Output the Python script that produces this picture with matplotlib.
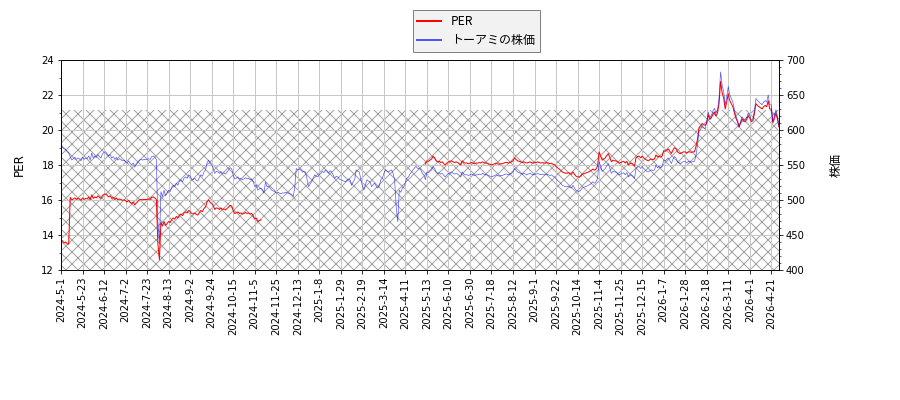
import numpy as np
import matplotlib.pyplot as plt
from matplotlib.ticker import AutoMinorLocator

plt.rcParams['font.family'] = ['DejaVu Sans', 'Noto Sans CJK JP']

# tick labels, one every 14 trading days
tick_labels = [
    '2024-5-1', '2024-5-23', '2024-6-12', '2024-7-2', '2024-7-23', '2024-8-13',
    '2024-9-2', '2024-9-24', '2024-10-15', '2024-11-5', '2024-11-25', '2024-12-13',
    '2025-1-8', '2025-1-29', '2025-2-19', '2025-3-14', '2025-4-11', '2025-5-13',
    '2025-6-10', '2025-6-30', '2025-7-18', '2025-8-12', '2025-9-1', '2025-9-22',
    '2025-10-14', '2025-11-4', '2025-11-25', '2025-12-15', '2026-1-7', '2026-1-28',
    '2026-2-18', '2026-3-11', '2026-4-1', '2026-4-21',
]

# daily close (yen)
price = [
    577, 575, 573, 572, 569, 567, 562, 557, 559, 561, 558, 560, 559, 556,
    561, 558, 560, 559, 563, 557, 567, 560, 563, 561, 565, 562, 560, 566,
    568, 569, 566, 563, 565, 560, 562, 558, 561, 557, 559, 558, 556, 557,
    555, 553, 556, 552, 550, 553, 547, 551, 554, 557, 558, 557, 558, 558,
    558, 559, 558, 562, 563, 561, 558, 470, 438, 512, 505, 514, 506, 510,
    514, 512, 518, 521, 519, 524, 521, 527, 529, 526, 531, 533, 531, 536,
    534, 530, 529, 531, 528, 527, 532, 536, 534, 540, 543, 553, 557, 552,
    550, 546, 538, 541, 540, 538, 541, 538, 539, 537, 540, 543, 546, 545,
    536, 530, 531, 533, 530, 531, 529, 530, 532, 530, 531, 529, 530, 526,
    519, 521, 514, 516, 517, 515, 510, 526, 519, 520, 517, 514, 513, 512,
    510, 511, 510, 509, 510, 510, 511, 510, 510, 509, 508, 505, 517, 545,
    543, 544, 543, 540, 541, 540, 530, 519, 523, 526, 531, 536, 534, 533,
    536, 538, 541, 539, 543, 541, 538, 542, 540, 536, 531, 534, 533, 530,
    529, 528, 527, 526, 528, 530, 529, 521, 526, 529, 543, 541, 540, 530,
    520, 514, 522, 529, 527, 526, 519, 522, 524, 520, 517, 520, 529, 531,
    538, 543, 541, 540, 542, 543, 538, 529, 490, 469, 514, 511, 517, 519,
    525, 531, 533, 537, 540, 543, 546, 548, 545, 545, 543, 538, 536, 529,
    540, 539, 541, 543, 548, 545, 540, 538, 539, 537, 538, 535, 533, 536,
    538, 539, 540, 538, 537, 538, 537, 535, 533, 540, 537, 536, 536, 535,
    536, 537, 536, 535, 536, 536, 537, 536, 538, 537, 536, 536, 535, 534,
    533, 534, 535, 536, 535, 534, 535, 535, 536, 537, 537, 536, 537, 538,
    540, 545, 542, 540, 539, 538, 537, 538, 537, 536, 537, 538, 537, 536,
    537, 537, 538, 537, 536, 537, 536, 536, 537, 536, 535, 536, 534, 533,
    530, 528, 526, 524, 521, 520, 519, 519, 520, 518, 517, 521, 517, 514,
    513, 512, 514, 517, 518, 519, 520, 521, 522, 524, 526, 524, 526, 531,
    555, 548, 541, 543, 545, 549, 552, 545, 538, 541, 540, 540, 538, 536,
    537, 538, 539, 536, 539, 533, 535, 536, 534, 531, 545, 547, 548, 545,
    548, 545, 543, 541, 540, 542, 543, 542, 543, 550, 546, 548, 546, 548,
    557, 556, 558, 560, 556, 552, 558, 562, 560, 555, 553, 552, 554, 555,
    555, 553, 555, 555, 554, 555, 555, 564, 579, 598, 601, 605, 603, 602,
    612, 626, 618, 621, 627, 631, 624, 629, 645, 683, 664, 655, 636, 648,
    662, 650, 645, 640, 629, 620, 614, 605, 612, 619, 615, 614, 618, 624,
    620, 614, 616, 628, 645, 642, 640, 638, 636, 640, 642, 640, 650, 636,
    636, 612, 620, 629, 619, 605,
]

# PER from the start of the series (2024-5-1 .. 2024-11-11)
per_2024 = [
    13.72, 13.66, 13.55, 13.60, 13.50, 13.48, 16.15, 16.01, 16.06, 16.12, 16.03, 16.09, 16.06, 15.98,
    16.12, 16.03, 16.09, 16.06, 16.18, 16.01, 16.29, 16.09, 16.18, 16.12, 16.24, 16.15, 16.09, 16.26,
    16.32, 16.35, 16.26, 16.18, 16.24, 16.09, 16.15, 16.03, 16.12, 16.01, 16.06, 16.03, 15.98, 16.01,
    15.95, 15.89, 15.98, 15.86, 15.80, 15.89, 15.72, 15.83, 15.92, 16.01, 16.03, 16.01, 16.03, 16.03,
    16.03, 16.06, 16.03, 16.15, 16.18, 16.12, 16.03, 13.51, 12.59, 14.71, 14.51, 14.77, 14.54, 14.66,
    14.77, 14.71, 14.89, 14.97, 14.91, 15.06, 14.97, 15.14, 15.20, 15.11, 15.26, 15.32, 15.26, 15.40,
    15.34, 15.23, 15.20, 15.26, 15.17, 15.14, 15.29, 15.40, 15.34, 15.52, 15.60, 15.89, 16.01, 15.86,
    15.80, 15.69, 15.46, 15.55, 15.52, 15.46, 15.55, 15.46, 15.49, 15.43, 15.52, 15.60, 15.69, 15.66,
    15.40, 15.23, 15.26, 15.32, 15.23, 15.26, 15.20, 15.23, 15.29, 15.23, 15.26, 15.20, 15.23, 15.11,
    14.91, 14.97, 14.77, 14.83, 14.86,
]

# PER up to the end of the series (from 2025-5-13)
per_2025 = [
    18.05,
    18.24, 18.21, 18.28, 18.34, 18.51, 18.41, 18.24, 18.18, 18.21, 18.14, 18.18, 18.07, 18.01, 18.11,
    18.18, 18.21, 18.24, 18.18, 18.14, 18.18, 18.14, 18.07, 18.01, 18.24, 18.14, 18.11, 18.11, 18.07,
    18.11, 18.14, 18.11, 18.07, 18.11, 18.11, 18.14, 18.11, 18.18, 18.14, 18.11, 18.11, 18.07, 18.04,
    18.01, 18.04, 18.07, 18.11, 18.07, 18.04, 18.07, 18.07, 18.11, 18.14, 18.14, 18.11, 18.14, 18.18,
    18.24, 18.41, 18.31, 18.24, 18.21, 18.18, 18.14, 18.18, 18.14, 18.11, 18.14, 18.18, 18.14, 18.11,
    18.14, 18.14, 18.18, 18.14, 18.11, 18.14, 18.11, 18.11, 18.14, 18.11, 18.07, 18.11, 18.04, 18.01,
    17.91, 17.84, 17.77, 17.70, 17.60, 17.57, 17.53, 17.53, 17.57, 17.50, 17.47, 17.60, 17.47, 17.36,
    17.33, 17.30, 17.36, 17.47, 17.50, 17.53, 17.57, 17.60, 17.64, 17.70, 17.77, 17.70, 17.77, 17.94,
    18.75, 18.51, 18.28, 18.34, 18.41, 18.55, 18.65, 18.41, 18.18, 18.28, 18.24, 18.24, 18.18, 18.11,
    18.14, 18.18, 18.21, 18.11, 18.21, 18.01, 18.07, 18.11, 18.04, 17.94, 18.41, 18.48, 18.51, 18.41,
    18.51, 18.41, 18.34, 18.28, 18.24, 18.31, 18.34, 18.31, 18.34, 18.58, 18.45, 18.51, 18.45, 18.51,
    18.82, 18.78, 18.85, 18.92, 18.78, 18.65, 18.85, 18.99, 18.92, 18.75, 18.68, 18.65, 18.72, 18.75,
    18.75, 18.68, 18.75, 18.75, 18.72, 18.75, 18.75, 19.05, 19.49, 20.15, 20.24, 20.37, 20.30, 20.27,
    20.40, 20.87, 20.60, 20.70, 20.90, 21.03, 20.80, 20.97, 21.50, 22.77, 22.13, 21.83, 21.20, 21.60,
    22.07, 21.67, 21.50, 21.33, 20.97, 20.67, 20.47, 20.17, 20.40, 20.63, 20.50, 20.47, 20.60, 20.80,
    20.67, 20.47, 20.53, 20.93, 21.50, 21.40, 21.33, 21.27, 21.20, 21.33, 21.40, 21.33, 21.67, 21.20,
    21.20, 20.40, 20.67, 20.97, 20.63, 20.17,
]

band_top = 21.15  # upper edge of the hatched band, PER scale

n = len(price)
x = np.arange(n)
per = np.full(n, np.nan)
per[:len(per_2024)] = per_2024
per[n - len(per_2025):] = per_2025

fig = plt.figure(figsize=(12.5, 400 / 72), dpi=72)
ax1 = fig.add_axes([61 / 900, 130 / 400, 718 / 900, 210 / 400])
ax2 = ax1.twinx()

ax1.axhspan(12, band_top, facecolor='none', edgecolor='#a0a0a0', hatch='xx', linewidth=0, zorder=0)
l1, = ax1.plot(x, per, color='red', linewidth=1.0, label='PER')
l2, = ax2.plot(x, price, color='blue', linewidth=0.7, alpha=0.65, label='トーアミの株価')

ax1.set_xlim(0, n - 1)
ax1.set_ylim(12, 24)
ax2.set_ylim(400, 700)
ax1.set_yticks(np.arange(12, 25, 2))
ax2.set_yticks(np.arange(400, 701, 50))
ax1.yaxis.set_minor_locator(AutoMinorLocator(2))
ax2.yaxis.set_minor_locator(AutoMinorLocator(5))

ax1.set_xticks(x[::14])
ax1.set_xticklabels(tick_labels, rotation=90)
ax1.grid(True, color='#c8c8c8', linewidth=1.0)
ax1.set_axisbelow(True)

ax1.set_ylabel('PER', fontsize=12, labelpad=15)
ax2.set_ylabel('株価', fontsize=12, labelpad=25, family=['Noto Sans CJK JP', 'DejaVu Sans'])

leg = fig.legend(handles=[l1, l2], loc='upper center', bbox_to_anchor=(0.529, 0.99),
                 fancybox=False, facecolor='#f2f2f2', edgecolor='#808080', framealpha=1,
                 prop={'family': ['Noto Sans CJK JP', 'DejaVu Sans'], 'size': 12})
for h in leg.get_lines():
    h.set_linewidth(2.0)

fig.savefig('out.png', dpi=72)
